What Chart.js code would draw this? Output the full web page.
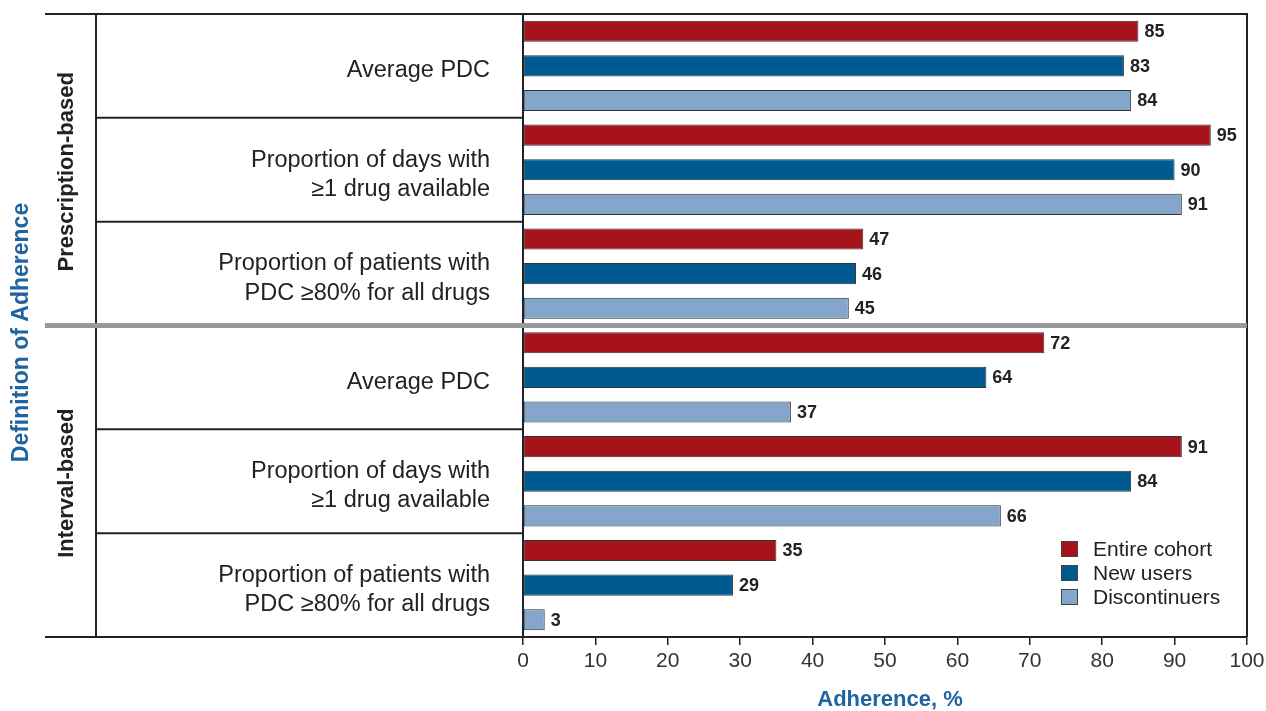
<!DOCTYPE html>
<html>
<head>
<meta charset="utf-8">
<script src="https://cdn.jsdelivr.net/npm/chart.js@4.4.0/dist/chart.umd.min.js"></script>
<style>
  html, body { margin: 0; padding: 0; background: #fff; }
  #wrap { width: 1266px; height: 711px; }
</style>
</head>
<body>
<div id="wrap"><canvas id="grafico" width="1266" height="711"></canvas></div>
<script>
// -----------------------------
// DATOS
// -----------------------------
const categorias = [
    "Average PDC",
    ["Proportion of days with", "≥1 drug available"],
    ["Proportion of patients with", "PDC ≥80% for all drugs"],
    "Average PDC",
    ["Proportion of days with", "≥1 drug available"],
    ["Proportion of patients with", "PDC ≥80% for all drugs"]
];
const grupos = ["Prescription-based", "Interval-based"];
const entireCohort = [85, 95, 47, 72, 91, 35];
const newUsers = [83, 90, 46, 64, 84, 29];
const discontinuers = [84, 91, 45, 37, 66, 3];
const series = ["Entire cohort", "New users", "Discontinuers"];
const colores = ["#a6131b", "#005a92", "#84a6cb"];
const ticksX = [0, 10, 20, 30, 40, 50, 60, 70, 80, 90, 100];

const fuente = "'Liberation Sans', Arial, sans-serif";
const azul = "#1f64a0";
const negro = "#222";

// -----------------------------
// PLUGIN: marco, etiquetas y leyenda
// -----------------------------
const marco = {
    id: "marco",
    afterDatasetsDraw(chart) {
        const ctx = chart.ctx;
        const a = chart.chartArea;
        const y = chart.scales.y;
        const izq = 45, col = 96;

        // separadores entre categorías
        const limites = [];
        for (let i = 0; i < categorias.length - 1; i++) {
            limites.push((y.getPixelForTick(i) + y.getPixelForTick(i + 1)) / 2);
        }

        ctx.save();
        ctx.strokeStyle = negro;
        ctx.lineWidth = 2;
        limites.forEach((p, i) => {
            if (i === 2) return;
            ctx.beginPath();
            ctx.moveTo(col, p);
            ctx.lineTo(a.left, p);
            ctx.stroke();
        });

        // líneas del marco
        ctx.beginPath();
        ctx.moveTo(izq, a.top); ctx.lineTo(a.right, a.top);
        ctx.lineTo(a.right, a.bottom);
        ctx.moveTo(izq, a.bottom); ctx.lineTo(a.right, a.bottom);
        ctx.moveTo(col, a.top); ctx.lineTo(col, a.bottom);
        ctx.moveTo(a.left, a.top); ctx.lineTo(a.left, a.bottom);
        ctx.stroke();

        // separador gris
        ctx.strokeStyle = "#999";
        ctx.lineWidth = 5;
        ctx.beginPath();
        ctx.moveTo(izq, limites[2]);
        ctx.lineTo(a.right, limites[2]);
        ctx.stroke();

        // valores de las barras
        ctx.fillStyle = negro;
        ctx.font = "bold 18px " + fuente;
        ctx.textAlign = "left";
        ctx.textBaseline = "middle";
        chart.data.datasets.forEach((ds, i) => {
            chart.getDatasetMeta(i).data.forEach((bar, j) => {
                ctx.fillText(ds.data[j], bar.x + 6, bar.y + 1);
            });
        });

        // títulos de grupo (rotados)
        const centros = [(a.top + limites[2]) / 2, (limites[2] + a.bottom) / 2];
        ctx.font = "bold 22px " + fuente;
        ctx.textAlign = "center";
        grupos.forEach((g, i) => {
            ctx.save();
            ctx.translate(67, centros[i] + 2);
            ctx.rotate(-Math.PI / 2);
            ctx.fillText(g, 0, 0);
            ctx.restore();
        });

        // título eje Y
        ctx.fillStyle = azul;
        ctx.font = "bold 23px " + fuente;
        ctx.save();
        ctx.translate(22, (a.top + a.bottom) / 2 + 7);
        ctx.rotate(-Math.PI / 2);
        ctx.fillText("Definition of Adherence", 0, 0);
        ctx.restore();

        // título eje X
        ctx.font = "bold 22px " + fuente;
        ctx.fillText("Adherence, %", (a.left + a.right) / 2 + 5, 700);

        // leyenda
        ctx.font = "21px " + fuente;
        ctx.textAlign = "left";
        series.forEach((s, i) => {
            const yy = 549 + i * 24;
            ctx.fillStyle = colores[i];
            ctx.fillRect(1061, yy - 8, 17, 16);
            ctx.strokeStyle = "#444";
            ctx.lineWidth = 1;
            ctx.strokeRect(1061.5, yy - 7.5, 16, 15);
            ctx.fillStyle = negro;
            ctx.fillText(s, 1093, yy + 1);
        });
        ctx.restore();
    }
};

// -----------------------------
// GRÁFICO
// -----------------------------
const ctx = document.getElementById("grafico");
const grafico = new Chart(ctx, {
    type: "bar",
    data: {
        labels: categorias,
        datasets: [entireCohort, newUsers, discontinuers].map((d, i) => ({
            label: series[i],
            data: d,
            backgroundColor: colores[i],
            borderColor: "#333",
            borderWidth: 1,
            borderSkipped: false,
            categoryPercentage: 1,
            barPercentage: 0.61
        }))
    },
    options: {
        indexAxis: "y",
        responsive: false,
        animation: false,
        layout: { padding: { top: 14, right: 19, left: 0, bottom: 0 } },
        plugins: { legend: { display: false }, tooltip: { enabled: false } },
        scales: {
            x: {
                min: 0,
                max: 100,
                afterFit: (s) => { s.height = 74; s.paddingLeft = 0; s.paddingRight = 0; },
                afterBuildTicks: (s) => { s.ticks = ticksX.map(v => ({ value: v })); },
                grid: { drawOnChartArea: false, drawTicks: true, tickLength: 8, color: negro, lineWidth: 1.5 },
                border: { display: false },
                ticks: { color: "#333", font: { family: fuente, size: 21 }, padding: 4 }
            },
            y: {
                afterFit: (s) => { s.width = 523; s.paddingTop = 0; s.paddingBottom = 0; },
                grid: { display: false },
                border: { display: false },
                ticks: {
                    color: negro,
                    padding: 25,
                    labelOffset: 5,
                    font: { family: fuente, size: 23.5, lineHeight: 1.25 }
                }
            }
        }
    },
    plugins: [marco]
});
</script>
</body>
</html>
